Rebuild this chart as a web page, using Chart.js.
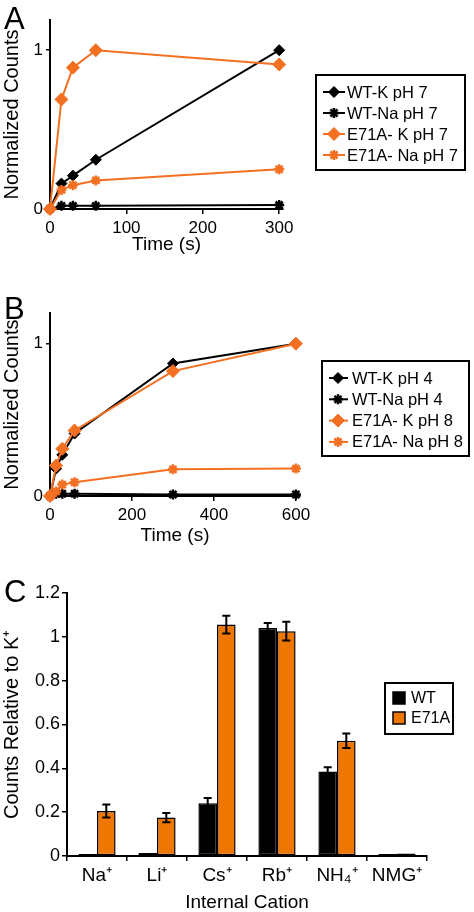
<!DOCTYPE html>
<html>
<head>
<meta charset="utf-8">
<script src="https://cdn.jsdelivr.net/npm/chart.js@4/dist/chart.umd.min.js"></script>
<style>
  html, body { margin: 0; padding: 0; background: #fff; }
  body { width: 474px; height: 912px; position: relative; overflow: hidden; font-family: "Liberation Sans", Arial, sans-serif; }
  .panel { position: absolute; left: 0; }
  .letter { position: absolute; left: 4px; font-size: 31px; line-height: 1; color: #000; }
</style>
</head>
<body>
<div class="panel" style="top:0"><canvas id="chartA" width="474" height="300"></canvas></div>
<div class="panel" style="top:300px"><canvas id="chartB" width="474" height="300"></canvas></div>
<div class="panel" style="top:580px"><canvas id="chartC" width="474" height="332"></canvas></div>
<div class="letter" style="top:3px">A</div>
<div class="letter" style="top:293px">B</div>
<div class="letter" style="top:576px">C</div>

<script>
// panel A
const timeA = [0, 15, 30, 60, 300];
const wtKpH7 = [0, 0.16, 0.21, 0.31, 1.0];
const wtNapH7 = [0, 0.02, 0.02, 0.02, 0.025];
const e71aKpH7 = [0, 0.69, 0.89, 1.0, 0.91];
const e71aNapH7 = [0, 0.12, 0.15, 0.18, 0.25];
const xTicksA = [0, 100, 200, 300];
const yTicksA = [0, 1];

// panel B
const timeB = [0, 15, 30, 60, 300, 600];
const wtKpH4 = [0, 0.18, 0.27, 0.41, 0.87, 1.0];
const wtNapH4 = [0, 0.015, 0.015, 0.015, 0.01, 0.01];
const e71aKpH8 = [0, 0.2, 0.31, 0.43, 0.82, 1.0];
const e71aNapH8 = [0, 0.03, 0.075, 0.09, 0.175, 0.18];
const xTicksB = [0, 200, 400, 600];
const yTicksB = [0, 1];

// panel C
const cations = ["Na⁺", "Li⁺", "Cs⁺", "Rb⁺", "NH₄⁺", "NMG⁺"];
const wtRel = [0.008, 0.014, 0.24, 1.04, 0.385, 0.008];
const wtErr = [0, 0, 0.024, 0.022, 0.02, 0];
const e71aRel = [0.205, 0.175, 1.055, 1.025, 0.525, 0.011];
const e71aErr = [0.03, 0.021, 0.04, 0.043, 0.033, 0];
const yTicksC = [0, 0.2, 0.4, 0.6, 0.8, 1, 1.2];

const FONT = '"Liberation Sans", Arial, sans-serif';
const ORANGE_LINE = "#f36f21";
const ORANGE_BAR = "#ef7600";

// draws a bordered legend box at a fixed spot, from the chart's datasets
const boxLegend = {
  id: "boxLegend",
  afterDraw(chart, args, opts) {
    const ctx = chart.ctx;
    ctx.save();
    ctx.lineWidth = 2;
    ctx.strokeStyle = "#000";
    ctx.strokeRect(opts.left, opts.top, opts.width, opts.height);
    ctx.font = opts.fontSize + "px " + FONT;
    ctx.textBaseline = "middle";
    chart.data.datasets.forEach((ds, i) => {
      const y = opts.top + opts.firstRow + i * opts.rowGap;
      if (opts.kind === "line") {
        ctx.strokeStyle = ds.borderColor;
        ctx.lineWidth = ds.borderWidth;
        ctx.beginPath();
        ctx.moveTo(opts.left + opts.lineFrom, y);
        ctx.lineTo(opts.left + opts.lineTo, y);
        ctx.stroke();
        ctx.fillStyle = ds.pointBackgroundColor;
        ctx.strokeStyle = ds.pointBorderColor;
        ctx.lineWidth = ds.pointBorderWidth;
        Chart.helpers.drawPoint(ctx, {
          pointStyle: ds.pointStyle,
          radius: ds.pointRadius,
          borderWidth: ds.pointBorderWidth,
          rotation: 0
        }, opts.left + opts.markX, y);
      } else {
        ctx.fillStyle = ds.backgroundColor;
        ctx.fillRect(opts.left + opts.markX, y - 6, 12, 12);
        ctx.lineWidth = 1.5;
        ctx.strokeStyle = "#000";
        ctx.strokeRect(opts.left + opts.markX, y - 6, 12, 12);
      }
      ctx.fillStyle = "#000";
      ctx.fillText(ds.label, opts.left + opts.textX, y + 1);
    });
    ctx.restore();
  }
};

// error bars on top of each bar
const errorBars = {
  id: "errorBars",
  afterDatasetsDraw(chart) {
    const ctx = chart.ctx;
    const yScale = chart.scales.y;
    ctx.save();
    ctx.strokeStyle = "#000";
    ctx.lineWidth = 2;
    chart.data.datasets.forEach((ds, di) => {
      const meta = chart.getDatasetMeta(di);
      meta.data.forEach((bar, i) => {
        const err = ds.errors[i];
        if (!err) return;
        const top = yScale.getPixelForValue(ds.data[i] + err);
        const bot = yScale.getPixelForValue(ds.data[i] - err);
        ctx.beginPath();
        ctx.moveTo(bar.x, top); ctx.lineTo(bar.x, bot);
        ctx.moveTo(bar.x - 4, top); ctx.lineTo(bar.x + 4, top);
        ctx.moveTo(bar.x - 4, bot); ctx.lineTo(bar.x + 4, bot);
        ctx.stroke();
      });
    });
    ctx.restore();
  }
};

function series(label, xs, ys, color, style, radius, order) {
  return {
    label,
    data: xs.map((x, i) => ({ x, y: ys[i] })),
    borderColor: color,
    borderWidth: 2,
    pointStyle: style,
    pointRadius: radius,
    pointBackgroundColor: color,
    pointBorderColor: color,
    pointBorderWidth: style === "star" ? 2.5 : 1,
    tension: 0,
    clip: false,
    order
  };
}

function lineOptions(cfg) {
  return {
    responsive: false,
    animation: false,
    layout: { padding: cfg.padding },
    plugins: { legend: { display: false }, tooltip: { enabled: false }, boxLegend: cfg.legend },
    scales: {
      x: {
        type: "linear",
        min: 0,
        max: cfg.xMax,
        border: { color: "#000", width: 2 },
        grid: { drawOnChartArea: false, drawTicks: true, tickLength: 5, color: "#000", lineWidth: 1.5 },
        ticks: { color: "#000", font: { family: FONT, size: 17 }, padding: 4, maxRotation: 0, callback: v => String(v) },
        afterBuildTicks: s => { s.ticks = cfg.xTicks.map(v => ({ value: v })); },
        afterFit: s => { s.height = cfg.xHeight; },
        title: { display: true, text: "Time (s)", color: "#000", font: { family: FONT, size: 19 } }
      },
      y: {
        min: 0,
        max: cfg.yMax,
        border: { color: "#000", width: 2 },
        grid: { drawOnChartArea: false, drawTicks: true, tickLength: 4, color: "#000", lineWidth: 1.5 },
        ticks: { color: "#000", font: { family: FONT, size: 17 }, padding: 3, callback: v => String(v) },
        afterBuildTicks: s => { s.ticks = cfg.yTicks.map(v => ({ value: v })); },
        afterFit: s => { s.width = 50; },
        title: { display: true, text: "Normalized Counts", color: "#000", font: { family: FONT, size: 20 }, padding: { top: 0, bottom: 0 } }
      }
    }
  };
}

new Chart(document.getElementById("chartA"), {
  type: "line",
  data: {
    datasets: [
      series("WT-K pH 7", timeA, wtKpH7, "#000", "rectRot", 5.5, 1),
      series("WT-Na pH 7", timeA, wtNapH7, "#000", "star", 5, 1),
      series("E71A- K pH 7", timeA, e71aKpH7, ORANGE_LINE, "rectRot", 6.5, 0),
      series("E71A- Na pH 7", timeA, e71aNapH7, ORANGE_LINE, "star", 5, 0)
    ]
  },
  options: lineOptions({
    padding: { left: 0, top: 20, right: 191, bottom: 40 },
    xMax: 305, yMax: 1.19, xHeight: 51,
    xTicks: xTicksA, yTicks: yTicksA,
    legend: { left: 316, top: 75, width: 149, height: 95, firstRow: 17, rowGap: 21, lineFrom: 7, lineTo: 29, markX: 18, textX: 31, fontSize: 16.5, kind: "line" }
  }),
  plugins: [boxLegend]
});

new Chart(document.getElementById("chartB"), {
  type: "line",
  data: {
    datasets: [
      series("WT-K pH 4", timeB, wtKpH4, "#000", "rectRot", 5.5, 1),
      series("WT-Na pH 4", timeB, wtNapH4, "#000", "star", 5, 1),
      series("E71A- K pH 8", timeB, e71aKpH8, ORANGE_LINE, "rectRot", 6.5, 0),
      series("E71A- Na pH 8", timeB, e71aNapH8, ORANGE_LINE, "star", 5, 0)
    ]
  },
  options: lineOptions({
    padding: { left: 0, top: 5, right: 174, bottom: 49 },
    xMax: 610, yMax: 1.2, xHeight: 55,
    xTicks: xTicksB, yTicks: yTicksB,
    legend: { left: 322, top: 61, width: 147, height: 95, firstRow: 17, rowGap: 21.3, lineFrom: 7, lineTo: 26, markX: 16, textX: 30, fontSize: 16.5, kind: "line" }
  }),
  plugins: [boxLegend]
});

new Chart(document.getElementById("chartC"), {
  type: "bar",
  data: {
    labels: cations,
    datasets: [
      { label: "WT", data: wtRel, errors: wtErr, backgroundColor: "#000", borderColor: "#000", borderWidth: 1.5, borderSkipped: false, minBarLength: 2 },
      { label: "E71A", data: e71aRel, errors: e71aErr, backgroundColor: ORANGE_BAR, borderColor: "#000", borderWidth: 1.5, borderSkipped: false, minBarLength: 2 }
    ]
  },
  options: {
    responsive: false,
    animation: false,
    layout: { padding: { left: 0, top: 10, right: 47, bottom: 0 } },
    datasets: { bar: { categoryPercentage: 0.62, barPercentage: 1.0 } },
    plugins: {
      legend: { display: false },
      tooltip: { enabled: false },
      boxLegend: { left: 385, top: 103, width: 68, height: 51, firstRow: 15, rowGap: 20, markX: 8, textX: 26, fontSize: 16, kind: "box" }
    },
    scales: {
      x: {
        border: { color: "#000", width: 2 },
        grid: { offset: true, drawOnChartArea: false, drawTicks: true, tickLength: 5, color: "#000", lineWidth: 1.5 },
        ticks: { color: "#000", font: { family: FONT, size: 19 }, padding: 3, maxRotation: 0, autoSkip: false },
        afterFit: s => { s.height = 56; },
        title: { display: true, text: "Internal Cation", color: "#000", font: { family: FONT, size: 19, lineHeight: 1 }, padding: { top: 0, bottom: 0 } }
      },
      y: {
        min: 0,
        max: 1.2,
        border: { color: "#000", width: 2 },
        grid: { drawOnChartArea: false, drawTicks: true, tickLength: 5, color: "#000", lineWidth: 1.5 },
        ticks: { color: "#000", font: { family: FONT, size: 18 }, padding: 2, callback: v => String(v) },
        afterBuildTicks: s => { s.ticks = yTicksC.map(v => ({ value: v })); },
        afterFit: s => { s.width = 67; },
        title: { display: true, text: "Counts Relative to K⁺", color: "#000", font: { family: FONT, size: 20 }, padding: { top: 0, bottom: 0 } }
      }
    }
  },
  plugins: [errorBars, boxLegend]
});
</script>
</body>
</html>
